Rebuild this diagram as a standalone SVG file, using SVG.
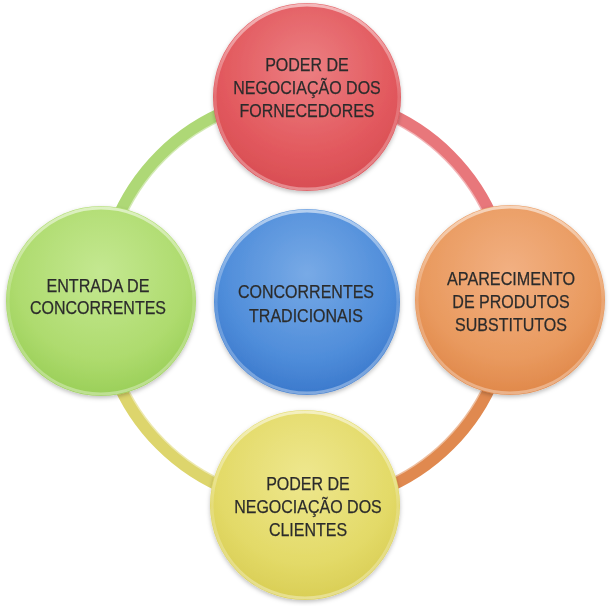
<svg xmlns="http://www.w3.org/2000/svg" width="610" height="606" viewBox="0 0 610 606">
<style>
.lbl{font-family:"Liberation Sans",Arial,sans-serif;font-size:19px;fill:#2c2c2c;stroke:#2c2c2c;stroke-width:0.25;text-anchor:middle}
.ring{fill:none;stroke-width:13;stroke-linecap:butt}
.ringhi{fill:none;stroke-width:2;stroke:#ffffff;stroke-opacity:0.45}
.rim{fill:none;stroke-width:3}
</style>
<defs>
<radialGradient id="gRed" cx="50%" cy="35%" r="65%">
<stop offset="0" stop-color="#EC7F82"/><stop offset="0.7" stop-color="#E2595E"/><stop offset="1" stop-color="#D84D53"/>
</radialGradient>
<radialGradient id="gOrange" cx="50%" cy="35%" r="65%">
<stop offset="0" stop-color="#F2B082"/><stop offset="0.7" stop-color="#E99A5F"/><stop offset="1" stop-color="#E0884A"/>
</radialGradient>
<radialGradient id="gYellow" cx="50%" cy="35%" r="65%">
<stop offset="0" stop-color="#EEE78E"/><stop offset="0.7" stop-color="#E3DA68"/><stop offset="1" stop-color="#D9CE55"/>
</radialGradient>
<radialGradient id="gGreen" cx="50%" cy="35%" r="65%">
<stop offset="0" stop-color="#C4E891"/><stop offset="0.7" stop-color="#AEDB6E"/><stop offset="1" stop-color="#9ACF58"/>
</radialGradient>
<radialGradient id="gBlue" cx="50%" cy="35%" r="65%">
<stop offset="0" stop-color="#78AAE6"/><stop offset="0.7" stop-color="#4F8DDA"/><stop offset="1" stop-color="#3B79CC"/>
</radialGradient>
<linearGradient id="gRim" x1="0" y1="0" x2="0" y2="1">
<stop offset="0" stop-color="#ffffff" stop-opacity="0.55"/><stop offset="0.5" stop-color="#ffffff" stop-opacity="0.15"/><stop offset="1" stop-color="#ffffff" stop-opacity="0.35"/>
</linearGradient>
<filter id="sh" x="-20%" y="-20%" width="140%" height="140%">
<feDropShadow dx="0" dy="2" stdDeviation="2" flood-color="#000" flood-opacity="0.25"/>
</filter>
</defs>
<rect width="610" height="606" fill="#ffffff"/>
<g id="connectors">
<path class="ring" stroke="#E8777B" d="M305,96 A204,204 0 0 1 509,300"/>
<path class="ring" stroke="#E0894F" d="M509,300 A204,204 0 0 1 305,504"/>
<path class="ring" stroke="#DDD56C" d="M305,504 A204,204 0 0 1 101,300"/>
<path class="ring" stroke="#AED876" d="M101,300 A204,204 0 0 1 305,96"/>
<circle class="ringhi" cx="305" cy="300" r="198"/>
</g>
<g id="node-fornecedores" filter="url(#sh)">
<circle cx="307" cy="97" r="94" fill="url(#gRed)"/>
<circle class="rim" cx="307" cy="97" r="92" stroke="url(#gRim)"/>
<text class="lbl" x="307" y="71" textLength="83.6" lengthAdjust="spacingAndGlyphs">PODER DE</text>
<text class="lbl" x="307" y="94" textLength="147.6" lengthAdjust="spacingAndGlyphs">NEGOCIAÇÃO DOS</text>
<text class="lbl" x="307" y="117" textLength="135.1" lengthAdjust="spacingAndGlyphs">FORNECEDORES</text>
</g>
<g id="node-substitutos" filter="url(#sh)">
<circle cx="510" cy="300" r="95" fill="url(#gOrange)"/>
<circle class="rim" cx="510" cy="300" r="93" stroke="url(#gRim)"/>
<text class="lbl" x="511" y="285" textLength="128" lengthAdjust="spacingAndGlyphs">APARECIMENTO</text>
<text class="lbl" x="511" y="308" textLength="117.3" lengthAdjust="spacingAndGlyphs">DE PRODUTOS</text>
<text class="lbl" x="511" y="331" textLength="112" lengthAdjust="spacingAndGlyphs">SUBSTITUTOS</text>
</g>
<g id="node-clientes" filter="url(#sh)">
<circle cx="305" cy="505" r="95" fill="url(#gYellow)"/>
<circle class="rim" cx="305" cy="505" r="93" stroke="url(#gRim)"/>
<text class="lbl" x="308" y="490" textLength="83.6" lengthAdjust="spacingAndGlyphs">PODER DE</text>
<text class="lbl" x="308" y="513" textLength="147.6" lengthAdjust="spacingAndGlyphs">NEGOCIAÇÃO DOS</text>
<text class="lbl" x="308" y="536" textLength="78.2" lengthAdjust="spacingAndGlyphs">CLIENTES</text>
</g>
<g id="node-entrada" filter="url(#sh)">
<circle cx="101" cy="301" r="95" fill="url(#gGreen)"/>
<circle class="rim" cx="101" cy="301" r="93" stroke="url(#gRim)"/>
<text class="lbl" x="98" y="292" textLength="103.1" lengthAdjust="spacingAndGlyphs">ENTRADA DE</text>
<text class="lbl" x="98" y="314" textLength="136" lengthAdjust="spacingAndGlyphs">CONCORRENTES</text>
</g>
<g id="node-tradicionais" filter="url(#sh)">
<circle cx="307" cy="302" r="93" fill="url(#gBlue)"/>
<circle class="rim" cx="307" cy="302" r="91" stroke="url(#gRim)"/>
<text class="lbl" x="306" y="298" textLength="136" lengthAdjust="spacingAndGlyphs">CONCORRENTES</text>
<text class="lbl" x="306" y="322" textLength="113.8" lengthAdjust="spacingAndGlyphs">TRADICIONAIS</text>
</g>
</svg>
